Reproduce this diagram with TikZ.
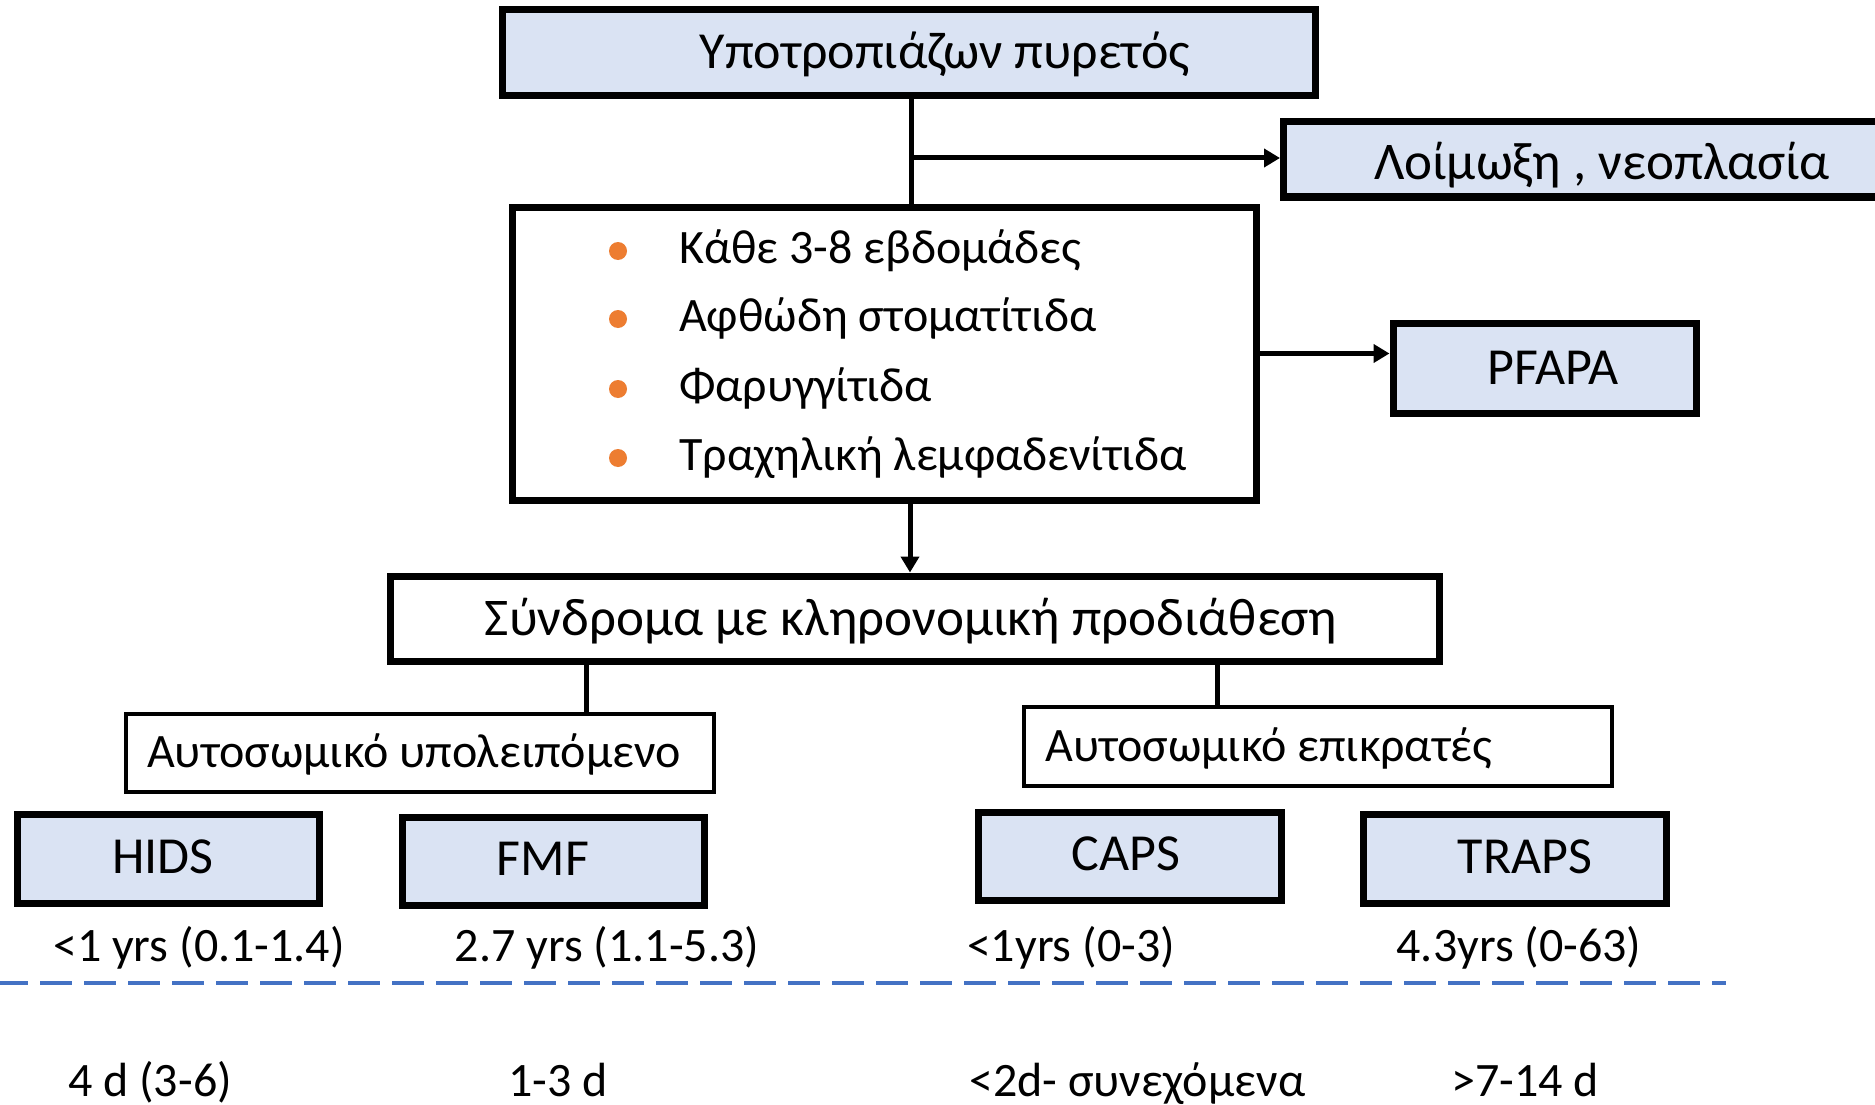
\documentclass[tikz,border=0pt]{standalone}
\usepackage{fontspec}
\setmainfont{Carlito}
\usetikzlibrary{arrows.meta}
\definecolor{boxblue}{HTML}{DAE3F3}
\definecolor{bulor}{HTML}{ED7D31}
\definecolor{dashblue}{HTML}{4472C4}
\tikzset{
  thickbox/.style={draw=black, line width=7pt, fill=boxblue, rectangle, inner sep=0pt},
  whitebox/.style={draw=black, line width=7pt, fill=white, rectangle, inner sep=0pt},
  thinbox/.style={draw=black, line width=4.5pt, fill=white, rectangle, inner sep=0pt},
  conn/.style={line width=5pt, draw=black},
  arr/.style={conn, -{Triangle[length=16pt,width=18pt]}},
  txt/.style={inner sep=0pt, text=black},
  bul/.style={circle, fill=bulor, minimum size=18pt, inner sep=0pt}
}
\newcommand{\fs}[1]{\fontsize{#1}{#1}\selectfont}
\begin{document}
\begin{tikzpicture}[x=1pt,y=-1pt]
\useasboundingbox (0,0) rectangle (1875,1105);
% boxes
\node[thickbox, minimum width=813pt, minimum height=86pt] (top) at (908.5,53) {};
\node[thickbox, minimum width=620pt, minimum height=75pt, anchor=west] (inf) at (1280,159.5) {};
\node[whitebox, minimum width=744pt, minimum height=293pt] (bullet) at (884,353.5) {};
\node[thickbox, minimum width=303pt, minimum height=90pt] (pfapa) at (1544.5,368) {};
\node[whitebox, minimum width=1049pt, minimum height=85pt] (synd) at (914.5,618.5) {};
\node[thinbox, minimum width=588pt, minimum height=78pt] (ar) at (420,753) {};
\node[thinbox, minimum width=588pt, minimum height=79pt] (ad) at (1318,746.5) {};
\node[thickbox, minimum width=302pt, minimum height=89pt] (hids) at (168,858.5) {};
\node[thickbox, minimum width=302pt, minimum height=88pt] (fmf) at (553,861) {};
\node[thickbox, minimum width=303pt, minimum height=88pt] (caps) at (1129.5,856) {};
\node[thickbox, minimum width=303pt, minimum height=89pt] (traps) at (1514.5,858.5) {};
% texts
\node[txt, anchor=mid] (ttop) at (945,66) {\fs{52}Υποτροπιάζων πυρετός};
\node[txt, anchor=mid] (tinf) at (1602,177) {\fs{53}Λοίμωξη , νεοπλασία};
\foreach \yy/\tt [count=\i] in {251/Κάθε 3-8 εβδομάδες, 319/Αφθώδη στοματίτιδα, 389/Φαρυγγίτιδα, 458/Τραχηλική λεμφαδενίτιδα}{
  \node[bul] (b\i) at (618,\yy) {};
  \node[txt, anchor=mid west] (bt\i) at (679,\yy+10) {\fs{48}\tt};
}
\node[txt, anchor=mid] (tpfapa) at (1553,382) {\fs{52}PFAPA};
\node[txt, anchor=mid] (tsynd) at (911,633) {\fs{53}Σύνδρομα με κληρονομική προδιάθεση};
\node[txt, anchor=mid west] (tar) at (147,765) {\fs{48}Αυτοσωμικό υπολειπόμενο};
\node[txt, anchor=mid west] (tad) at (1045,759) {\fs{48}Αυτοσωμικό επικρατές};
\node[txt, anchor=mid] (thids) at (163,871) {\fs{52}HIDS};
\node[txt, anchor=mid] (tfmf) at (543,873) {\fs{52}FMF};
\node[txt, anchor=mid] (tcaps) at (1126,868) {\fs{52}CAPS};
\node[txt, anchor=mid] (ttraps) at (1525,871) {\fs{52}TRAPS};
% row labels
\node[txt, anchor=mid] (l1) at (199,959) {\fs{48}<1 yrs (0.1-1.4)};
\node[txt, anchor=mid] (l2) at (607,959) {\fs{48}2.7 yrs (1.1-5.3)};
\node[txt, anchor=mid] (l3) at (1071,959) {\fs{48}<1yrs (0-3)};
\node[txt, anchor=mid] (l4) at (1519,959) {\fs{48}4.3yrs (0-63)};
\node[txt, anchor=mid west] (d1) at (68,1094) {\fs{48}4 d (3-6)};
\node[txt, anchor=mid west] (d2) at (508,1094) {\fs{48}1-3 d};
\node[txt, anchor=mid west] (d3) at (969,1094) {\fs{48}<2d- συνεχόμενα};
\node[txt, anchor=mid west] (d4) at (1451,1094) {\fs{48}>7-14 d};
% dashed line
\coordinate (dl) at (0,983);
\coordinate (dr) at (1726,983);
\draw[dashblue, line width=4pt, dash pattern=on 32pt off 12pt, dash phase=4pt] (dl) -- (dr);
% connectors
\coordinate (br) at (911,158);
\draw[conn] (top.south -| br) -- (bullet.north -| br);
\draw[arr] (br) -- (inf.west |- br);
\draw[arr] (bullet.east) -- (pfapa.west |- bullet.east);
\coordinate (dn) at (910,0);
\draw[arr] (bullet.south -| dn) -- (synd.north -| dn);
\coordinate (arl) at (586,0);
\coordinate (adl) at (1217,0);
\draw[conn] (synd.south -| arl) -- (ar.north -| arl);
\draw[conn] (synd.south -| adl) -- (ad.north -| adl);
\end{tikzpicture}
\end{document}
